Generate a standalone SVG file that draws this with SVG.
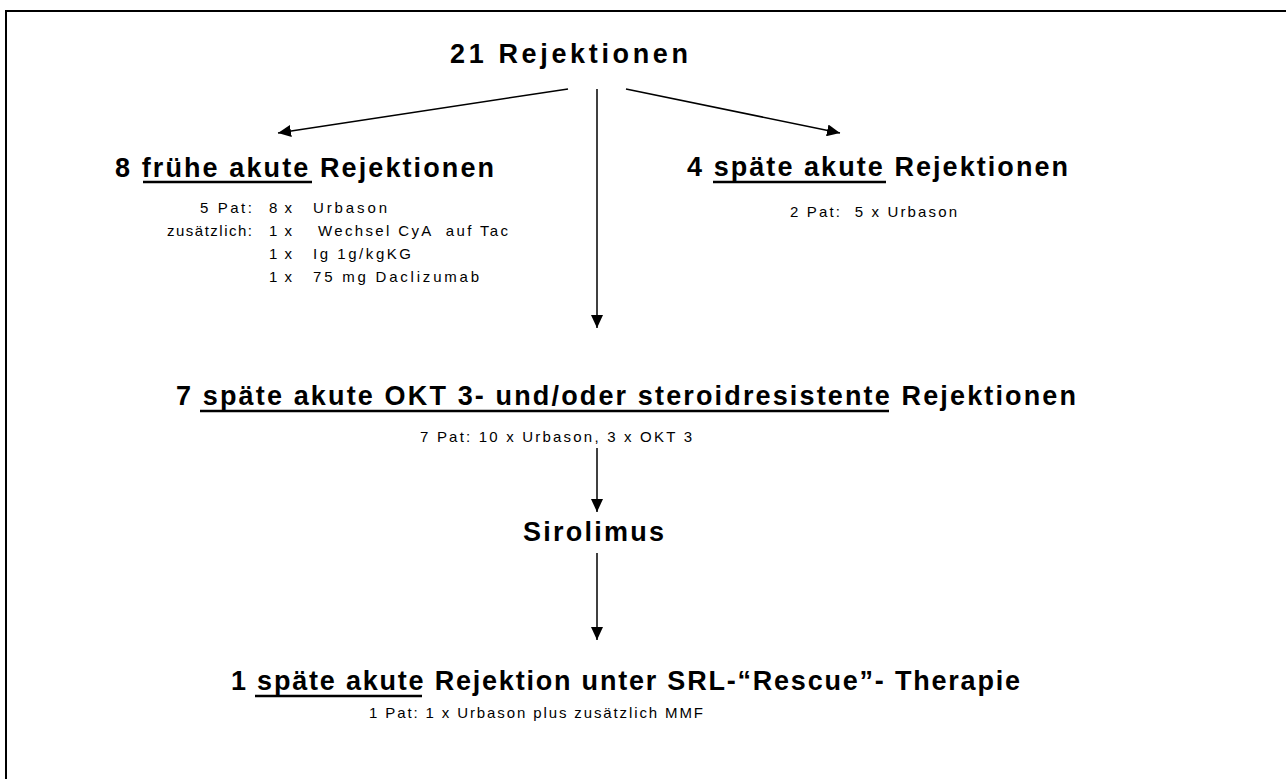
<svg xmlns="http://www.w3.org/2000/svg" width="1286" height="779" viewBox="0 0 1286 779">
<style>
.h{font-family:"Liberation Sans",Arial,sans-serif;font-weight:bold;font-size:27px;fill:#000}
.s{font-family:"Liberation Sans",Arial,sans-serif;font-size:15px;fill:#000}
.u{stroke:#000;stroke-width:2.5}
.c{stroke:#000;stroke-width:1.5;fill:none;marker-end:url(#ah)}
</style>
<defs>
<marker id="ah" viewBox="0 0 13 12" refX="13" refY="6" markerWidth="13" markerHeight="12" markerUnits="userSpaceOnUse" orient="auto"><path d="M0,0 L13,6 L0,12 z" fill="#000"/></marker>
</defs>
<rect width="1286" height="779" fill="#fff"/>
<path d="M6,779 V11 H1286" fill="none" stroke="#000" stroke-width="2"/>
<g id="n-root"><text class="h" x="450" y="63" textLength="238" lengthAdjust="spacing">21 Rejektionen</text></g>
<g id="n-early">
<text class="h" x="115" y="177" textLength="379" lengthAdjust="spacing">8 frühe akute Rejektionen</text>
<line class="u" x1="143" y1="182" x2="312" y2="182"/>
<text class="s" y="213"><tspan x="200" textLength="52" lengthAdjust="spacing">5 Pat:</tspan><tspan x="269" textLength="23" lengthAdjust="spacing">8 x</tspan><tspan x="313" textLength="74" lengthAdjust="spacing">Urbason</tspan></text>
<text class="s" y="236"><tspan x="167" textLength="85" lengthAdjust="spacing">zusätzlich:</tspan><tspan x="269" textLength="23" lengthAdjust="spacing">1 x</tspan><tspan x="318" textLength="190" lengthAdjust="spacing" xml:space="preserve">Wechsel CyA  auf Tac</tspan></text>
<text class="s" y="259"><tspan x="269" textLength="23" lengthAdjust="spacing">1 x</tspan><tspan x="313" textLength="98" lengthAdjust="spacing">Ig 1g/kgKG</tspan></text>
<text class="s" y="282"><tspan x="269" textLength="23" lengthAdjust="spacing">1 x</tspan><tspan x="313" textLength="166" lengthAdjust="spacing">75 mg Daclizumab</tspan></text>
</g>
<g id="n-late">
<text class="h" x="687" y="176" textLength="381" lengthAdjust="spacing">4 späte akute Rejektionen</text>
<line class="u" x1="713" y1="182" x2="886" y2="182"/>
<text class="s" x="790" y="217" textLength="167" lengthAdjust="spacing" xml:space="preserve">2 Pat:  5 x Urbason</text>
</g>
<g id="n-resist">
<text class="h" x="176" y="405" textLength="900" lengthAdjust="spacing">7 späte akute OKT 3- und/oder steroidresistente Rejektionen</text>
<line class="u" x1="200" y1="411" x2="889" y2="411"/>
<text class="s" x="420" y="442" textLength="272" lengthAdjust="spacing">7 Pat: 10 x Urbason, 3 x OKT 3</text>
</g>
<g id="n-srl"><text class="h" x="523" y="541" textLength="141" lengthAdjust="spacing">Sirolimus</text></g>
<g id="n-rescue">
<text class="h" x="231" y="690" textLength="789" lengthAdjust="spacing">1 späte akute Rejektion unter SRL-“Rescue”- Therapie</text>
<line class="u" x1="255" y1="696" x2="422" y2="696"/>
<text class="s" x="369" y="718" textLength="334" lengthAdjust="spacing">1 Pat: 1 x Urbason plus zusätzlich MMF</text>
</g>
<g id="connectors">
<line class="c" x1="568" y1="89" x2="278" y2="133"/>
<line class="c" x1="597" y1="89" x2="597" y2="328"/>
<line class="c" x1="626" y1="89" x2="840" y2="133"/>
<line class="c" x1="597" y1="448" x2="597" y2="512"/>
<line class="c" x1="597" y1="553" x2="597" y2="640"/>
</g>
</svg>
